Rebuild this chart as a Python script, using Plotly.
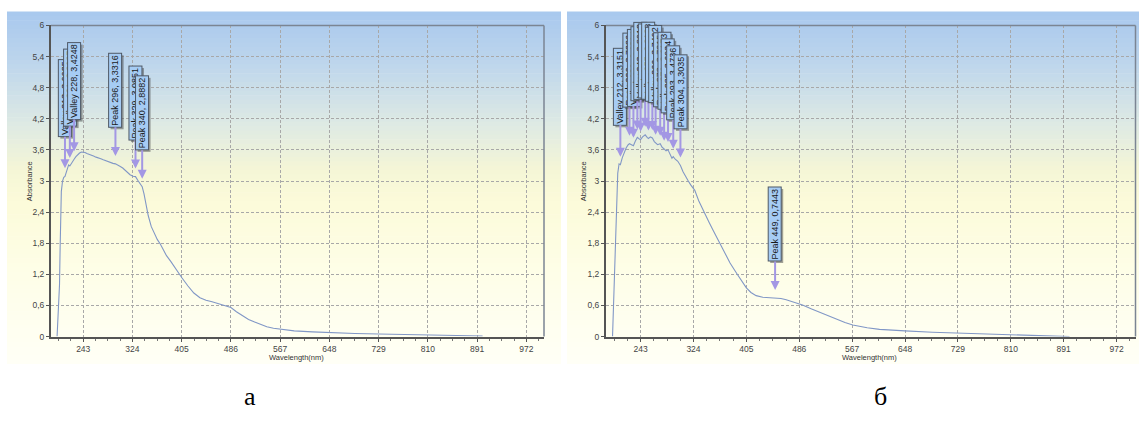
import plotly.graph_objects as go

# ---------------- data ----------------
# Spectrum (a)
wl_a = [200, 202, 204, 205, 206, 207, 209, 211, 213, 216, 219, 221, 223, 226, 228, 231, 234, 237,
        240, 243, 246, 249, 252, 256, 260, 264, 268, 272, 276, 280, 284, 288, 292, 296, 300, 304,
        308, 312, 316, 320, 325, 329, 333, 337, 340, 343, 346, 350, 355, 360, 365, 370, 375, 380,
        387, 395, 405, 415, 425, 435, 445, 455, 465, 475, 486, 495, 505, 515, 525, 535, 545, 556,
        567, 590, 620, 648, 690, 729, 770, 810, 850, 891, 900]
abs_a = [0.0, 0.55, 1.0, 1.7, 2.4, 2.8, 3.0, 3.07, 3.09, 3.2, 3.31, 3.29, 3.33, 3.4, 3.42, 3.47, 3.51, 3.54,
         3.56, 3.56, 3.55, 3.53, 3.52, 3.5, 3.48, 3.46, 3.45, 3.43, 3.41, 3.39, 3.37, 3.35, 3.34, 3.33, 3.31, 3.28,
         3.25, 3.21, 3.17, 3.12, 3.09, 3.085, 3.01, 2.93, 2.89, 2.75, 2.55, 2.33, 2.12, 1.98, 1.87, 1.78, 1.66, 1.56,
         1.45, 1.3, 1.14, 0.98, 0.84, 0.75, 0.7, 0.67, 0.63, 0.6, 0.56, 0.48, 0.4, 0.33, 0.28, 0.23, 0.19, 0.16,
         0.14, 0.11, 0.09, 0.075, 0.06, 0.05, 0.04, 0.03, 0.02, 0.012, 0.01]

# Spectrum (б)
wl_b = [200, 202, 204, 206, 208, 210, 212, 215, 218, 221, 224, 226, 229, 232, 235, 238, 241, 243,
        246, 250, 253, 255, 258, 261, 264, 266, 269, 273, 276, 279, 282, 285, 288, 291, 293, 296,
        300, 304, 308, 312, 316, 320, 326, 332, 340, 348, 354, 362, 370, 380, 390, 398, 405, 412,
        420, 430, 440, 449, 458, 466, 476, 491, 505, 518, 532, 545, 556, 568, 590, 609, 630, 648,
        690, 729, 770, 810, 840, 870, 900]
abs_b = [0.0, 0.8, 1.8, 2.7, 3.15, 3.33, 3.315, 3.45, 3.56, 3.64, 3.7, 3.72, 3.7, 3.68, 3.77, 3.84, 3.81, 3.8,
         3.85, 3.89, 3.84, 3.82, 3.85, 3.83, 3.76, 3.74, 3.7, 3.72, 3.65, 3.62, 3.58, 3.6, 3.52, 3.44, 3.47, 3.42,
         3.38, 3.3, 3.18, 3.08, 3.0, 2.92, 2.82, 2.62, 2.4, 2.2, 2.05, 1.86, 1.66, 1.42, 1.22, 1.06, 0.94, 0.85,
         0.79, 0.76, 0.75, 0.745, 0.735, 0.71, 0.67, 0.61, 0.53, 0.46, 0.385, 0.32, 0.27, 0.225, 0.17, 0.14, 0.12, 0.11,
         0.085, 0.07, 0.05, 0.03, 0.015, 0.005, 0.0]

# Peak / valley labels
lab_a_kind = ["Valley", "Valley", "Valley", "Peak", "Peak", "Peak"]
lab_a_wl = [213, 221, 228, 296, 329, 340]
lab_a_val = ["3,0925", "3,2937", "3,4248", "3,3316", "3,0851", "2,8882"]

lab_b_kind = ["Valley", "Peak", "Valley", "Peak", "Valley", "Peak", "Valley", "Peak", "Valley",
              "Peak", "Valley", "Peak", "Peak", "Peak", "Peak"]
lab_b_wl = [212, 226, 232, 238, 243, 250, 255, 261, 266, 273, 279, 285, 293, 304, 449]
lab_b_val = ["3,3151", "3,7226", "3,6804", "3,8437", "3,8012", "3,8915", "3,8188", "3,8326", "3,7402",
             "3,7215", "3,6173", "3,6034", "3,4736", "3,3035", "0,7443"]

x_ticks = [243, 324, 405, 486, 567, 648, 729, 810, 891, 972]
y_ticks = [0, 0.6, 1.2, 1.8, 2.4, 3, 3.6, 4.2, 4.8, 5.4, 6]
y_ticktext = ["0", "0,6", "1,2", "1,8", "2,4", "3", "3,6", "4,2", "4,8", "5,4", "6"]

panel_letters = ["а", "б"]

# ---------------- layout geometry ----------------
W, H = 1139, 425
# vertical calibration (target pixel -> figure pixel)
SY, OY = 0.9775, 4.56
def Y(y):
    return (y - OY) / SY
def px(x):
    return x / W
def py(y):
    return 1 - Y(y) / H

FONT = "Liberation Sans"

fig = go.Figure()
fig.add_trace(go.Scatter(x=wl_a, y=abs_a, mode="lines", line=dict(color="#8197c6", width=1.1),
                         xaxis="x", yaxis="y", showlegend=False, hoverinfo="skip"))
fig.add_trace(go.Scatter(x=wl_b, y=abs_b, mode="lines", line=dict(color="#8197c6", width=1.1),
                         xaxis="x2", yaxis="y2", showlegend=False, hoverinfo="skip"))

def xax(domain):
    return dict(domain=domain, range=[190, 1001], tickvals=x_ticks, ticktext=[str(v) for v in x_ticks],
                showgrid=True, gridcolor="#a8a8a8", gridwidth=1, griddash="3px,2px",
                showline=True, linecolor="#555555", linewidth=2, ticks="outside", ticklen=3,
                tickcolor="#555555", tickfont=dict(family=FONT, size=8.5, color="#444444"),
                zeroline=False, fixedrange=True,
                minor=dict(dtick=20.25, tick0=243, ticks="outside", ticklen=2, tickcolor="#777777", showgrid=False))

def yax(domain, anchor):
    return dict(domain=domain, range=[0, 6], tickvals=y_ticks, ticktext=y_ticktext, anchor=anchor,
                showgrid=True, gridcolor="#a8a8a8", gridwidth=1, griddash="3px,2px",
                showline=True, linecolor="#555555", linewidth=2, ticks="outside", ticklen=3,
                tickcolor="#555555", tickfont=dict(family=FONT, size=8.5, color="#444444"),
                zeroline=False, fixedrange=True)

ydom = [py(336.5), py(25)]
fig.update_layout(
    width=W, height=H, margin=dict(l=0, r=0, t=0, b=0),
    paper_bgcolor="white", plot_bgcolor="rgba(0,0,0,0)",
    xaxis=dict(xax([px(51), px(544)]), anchor="y"),
    yaxis=yax(ydom, "x"),
    xaxis2=dict(xax([px(606), px(1135.5)]), anchor="y2"),
    yaxis2=yax(ydom, "x2"),
)

# ---------------- background gradient ----------------
stops = [(0.0, (168, 200, 238)), (0.15, (190, 214, 236)), (0.32, (222, 234, 228)),
         (0.45, (245, 246, 214)), (0.55, (252, 251, 218)), (0.75, (254, 254, 232)),
         (1.0, (255, 255, 246))]
def grad(t):
    for (t0, c0), (t1, c1) in zip(stops[:-1], stops[1:]):
        if t0 <= t <= t1:
            f = (t - t0) / (t1 - t0)
            return "rgb(%d,%d,%d)" % tuple(round(a + (b - a) * f) for a, b in zip(c0, c1))
    return "rgb(%d,%d,%d)" % stops[-1][1]

shapes = []
bg_top, bg_bot = 11, 364
n = 80
for (x0, x1) in [(7, 561), (567, 1139)]:
    for i in range(n):
        ya = bg_top + (bg_bot - bg_top) * i / n
        yb = bg_top + (bg_bot - bg_top) * (i + 1) / n + 0.6
        shapes.append(dict(type="rect", xref="paper", yref="paper", x0=px(x0), x1=px(x1),
                           y0=py(min(yb, bg_bot)), y1=py(ya), line=dict(width=0),
                           fillcolor=grad((i + 0.5) / n), layer="below"))
# top / right frame lines
for xr, yr in [("x", "y"), ("x2", "y2")]:
    shapes.append(dict(type="line", xref=xr + " domain", yref=yr + " domain", x0=0, x1=1, y0=1, y1=1,
                       line=dict(color="#7b8593", width=1.5), layer="above"))
    shapes.append(dict(type="line", xref=xr + " domain", yref=yr + " domain", x0=1, x1=1, y0=0, y1=1,
                       line=dict(color="#7b8593", width=1.5), layer="above"))
fig.update_layout(shapes=shapes)

# ---------------- annotations ----------------
anns = []
def add_labels(kinds, wls, vals, xr, yr, xs, ys):
    for k, w, v in zip(kinds, wls, vals):
        text = "%s %d, %s" % (k, w, v)
        yv = ys[xs.index(w)] if w in xs else float(v.replace(",", "."))
        L = len(text) * 4.55 + 5
        ay = -(8 + 25 + L / 2) / SY
        # shadow
        anns.append(dict(x=w, y=yv, xref=xr, yref=yr, text=text, textangle=-90, showarrow=True,
                         ax=0, ay=ay, standoff=8, arrowcolor="rgba(0,0,0,0)", arrowwidth=0.1,
                         font=dict(family=FONT, size=9, color="rgba(0,0,0,0)"),
                         bgcolor="rgba(70,70,70,0.5)", borderpad=1, borderwidth=1,
                         bordercolor="rgba(0,0,0,0)", xshift=2, yshift=-2))
        anns.append(dict(x=w, y=yv, xref=xr, yref=yr, text=text, textangle=-90, showarrow=True,
                         ax=0, ay=ay, standoff=8, arrowcolor="#a397e4", arrowwidth=2,
                         arrowhead=2, arrowsize=0.9,
                         font=dict(family=FONT, size=9, color="#1a1a1a"),
                         bgcolor="#a6ccf4", borderpad=1, borderwidth=1, bordercolor="#4f5966"))

add_labels(lab_a_kind, lab_a_wl, lab_a_val, "x", "y", wl_a, abs_a)
add_labels(lab_b_kind, lab_b_wl, lab_b_val, "x2", "y2", wl_b, abs_b)

# axis titles
for xc in [29, 583]:
    anns.append(dict(x=px(xc), y=py(181), xref="paper", yref="paper", text="Absorbance", textangle=-90,
                     showarrow=False, font=dict(family=FONT, size=7.5, color="#333333"),
                     xanchor="center", yanchor="middle"))
for xc in [296, 869]:
    anns.append(dict(x=px(xc), y=py(357), xref="paper", yref="paper", text="Wavelength(nm)",
                     showarrow=False, font=dict(family=FONT, size=7.5, color="#333333"),
                     xanchor="center", yanchor="middle"))
# panel letters
for xc, letter in zip([250, 880], panel_letters):
    anns.append(dict(x=px(xc), y=py(396), xref="paper", yref="paper", text=letter, showarrow=False,
                     font=dict(family="Liberation Serif", size=26, color="#000000"),
                     xanchor="center", yanchor="middle"))

fig.update_layout(annotations=anns)
fig.write_html("out.html",
               config={"displayModeBar": False},
               post_script="document.documentElement.style.margin='0';"
                           "document.body.style.margin='0';document.body.style.padding='0';"
                           "document.body.style.overflow='hidden';"
                           "var gd=document.getElementById('{plot_id}');"
                           "gd.style.position='fixed';gd.style.left='0px';gd.style.top='0px';")
